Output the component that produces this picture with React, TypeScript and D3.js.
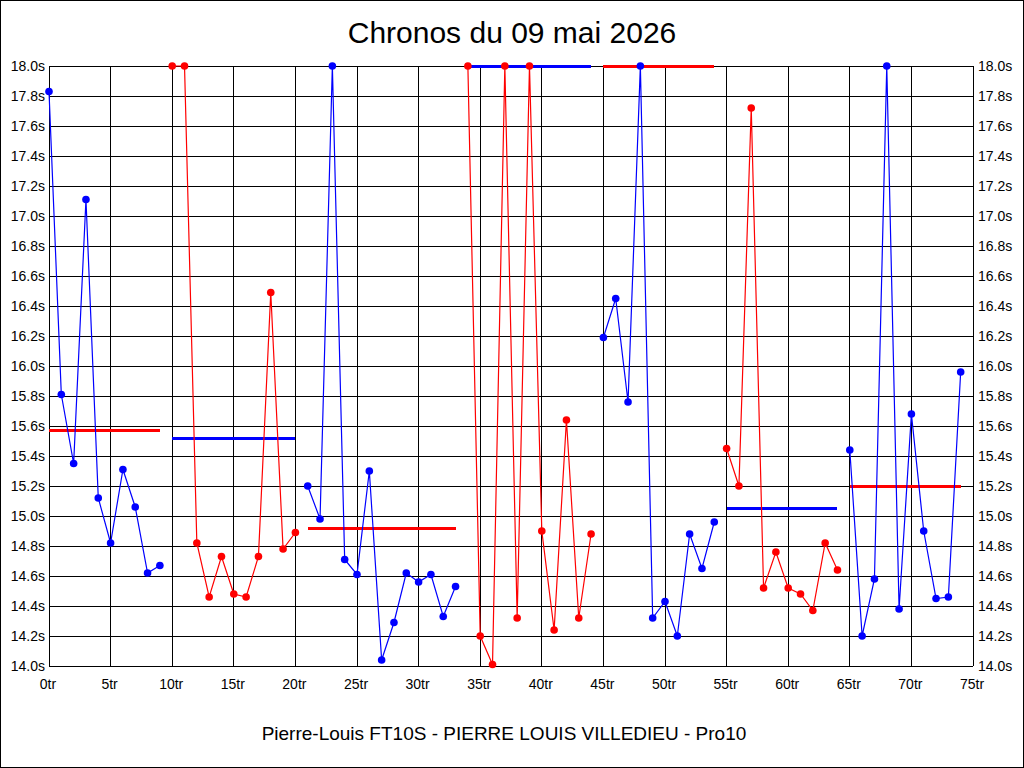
import React from "react";
import * as d3 from "d3";

// Lap times (seconds), one per lap index 0..74 (values above 18.0 are shown clipped at 18.0)
const lapTimes: number[] = [
  17.83, 15.81, 15.35, 17.11, 15.12, 14.82, 15.31, 15.06, 14.62, 14.67,
  18.0, 18.0, 14.82, 14.46, 14.73, 14.48, 14.46, 14.73, 16.49, 14.78, 14.89,
  15.2, 14.98, 18.0, 14.71, 14.61, 15.3, 14.04, 14.29, 14.62, 14.56, 14.61, 14.33, 14.53,
  18.0, 14.2, 14.01, 18.0, 14.32, 18.0, 14.9, 14.24, 15.64, 14.32, 14.88,
  16.19, 16.45, 15.76, 18.0, 14.32, 14.43, 14.2, 14.88, 14.65, 14.96,
  15.45, 15.2, 17.72, 14.52, 14.76, 14.52, 14.48, 14.37, 14.82, 14.64,
  15.44, 14.2, 14.58, 18.0, 14.38, 15.68, 14.9, 14.45, 14.46, 15.96,
];

// Sessions (runs) : first lap, last lap, average, colour of points
const sessionStart: number[] = [0, 10, 21, 34, 45, 55, 65];
const sessionEnd: number[] = [9, 20, 33, 44, 54, 64, 74];
const sessionAverage: number[] = [15.57, 15.52, 14.92, 18.0, 18.0, 15.05, 15.2];
const sessionColor: string[] = ["#0000FF", "#FF0000", "#0000FF", "#FF0000", "#0000FF", "#FF0000", "#0000FF"];
const averageColor: string[] = ["#FF0000", "#0000FF", "#FF0000", "#0000FF", "#FF0000", "#0000FF", "#FF0000"];

const yTicks: number[] = d3.range(0, 21).map((i) => +(14 + i * 0.2).toFixed(1));
const xTicks: number[] = d3.range(0, 16).map((i) => i * 5);

const title = "Chronos du 09 mai 2026";
const subtitle = "Pierre-Louis FT10S - PIERRE LOUIS VILLEDIEU - Pro10";

export default function App() {
  const W = 1024;
  const H = 768;
  const x = d3.scaleLinear().domain([0, 75]).range([49, 973]);
  const y = d3.scaleLinear().domain([14, 18]).range([666, 66]);
  const font = "'Liberation Sans', Arial, sans-serif";

  return (
    <>
      <style>{`body{margin:0;}`}</style>
      <svg width={W} height={H} style={{ display: "block", background: "#fff" }}>
        <rect x={0.5} y={0.5} width={W - 1} height={H - 1} fill="#fff" stroke="#000" strokeWidth={1} />
        <text x={512} y={43} textAnchor="middle" fontFamily={font} fontSize={30} fill="#000">
          {title}
        </text>
        <text x={504} y={740} textAnchor="middle" fontFamily={font} fontSize={19} fill="#000">
          {subtitle}
        </text>

        {/* grid */}
        <g shapeRendering="crispEdges" stroke="#000" strokeWidth={1}>
          {yTicks.map((t) => (
            <line key={"h" + t} x1={x(0)} x2={x(75)} y1={y(t)} y2={y(t)} />
          ))}
          {xTicks.map((t) => (
            <line key={"v" + t} x1={x(t)} x2={x(t)} y1={y(18)} y2={y(14)} />
          ))}
        </g>

        {/* axis labels */}
        <g fontFamily={font} fontSize={14} fill="#000">
          {yTicks.map((t) => (
            <text key={"yl" + t} x={45} y={y(t) + 5} textAnchor="end">
              {t.toFixed(1) + "s"}
            </text>
          ))}
          {yTicks.map((t) => (
            <text key={"yr" + t} x={978} y={y(t) + 5} textAnchor="start">
              {t.toFixed(1) + "s"}
            </text>
          ))}
          {xTicks.map((t) => (
            <text key={"xl" + t} x={x(t) - 1} y={689} textAnchor="middle">
              {t + "tr"}
            </text>
          ))}
        </g>

        {/* averages */}
        {sessionStart.map((s, k) => (
          <line
            key={"avg" + k}
            x1={x(s)}
            x2={x(sessionEnd[k])}
            y1={y(Math.min(sessionAverage[k], 18))}
            y2={y(Math.min(sessionAverage[k], 18))}
            stroke={averageColor[k]}
            strokeWidth={3}
            shapeRendering="crispEdges"
          />
        ))}

        {/* series */}
        {sessionStart.map((s, k) => {
          const idx = d3.range(s, sessionEnd[k] + 1);
          const vals = idx.map((i) => lapTimes[i]);
          const path = d3
            .line<number>()
            .x((_, j) => x(idx[j]))
            .y((d) => y(Math.min(d, 18)))(vals);
          return (
            <g key={"s" + k}>
              <path d={path || ""} fill="none" stroke={sessionColor[k]} strokeWidth={1.2} />
              {idx.map((i) => (
                <circle key={i} cx={x(i)} cy={y(Math.min(lapTimes[i], 18))} r={3.8} fill={sessionColor[k]} />
              ))}
            </g>
          );
        })}
      </svg>
    </>
  );
}
